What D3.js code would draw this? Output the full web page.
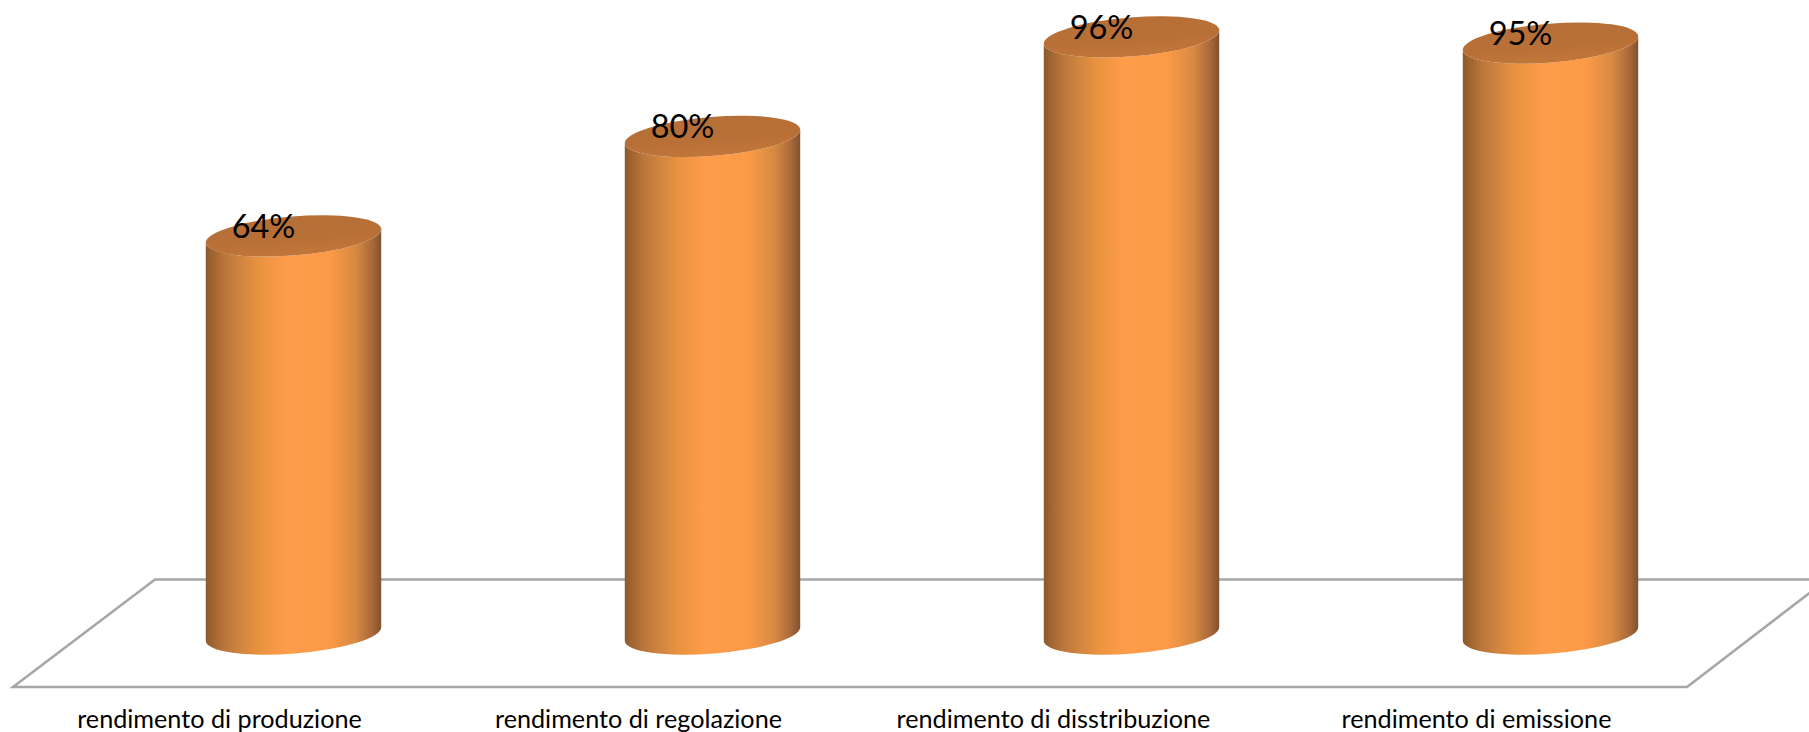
<!DOCTYPE html>
<html>
<head>
<meta charset="utf-8">
<script src="https://cdn.jsdelivr.net/npm/d3@7"></script>
<style>
html,body{margin:0;padding:0;background:#fff;overflow:hidden}
svg{display:block}
text{font-family:Lato,"Open Sans",sans-serif}
</style>
</head>
<body>
<div id="chart"></div>
<script>
const categories = ["rendimento di produzione","rendimento di regolazione","rendimento di disstribuzione","rendimento di emissione"];
const values = [0.64,0.80,0.96,0.95];
const valueLabels = ["64%","80%","96%","95%"];

const width = 1809, height = 732;
const svg = d3.select("#chart").append("svg").attr("width",width).attr("height",height);

const x = d3.scaleBand().domain(categories).range([84,1760]);
const y = d3.scaleLinear().domain([0,1]).range([634,12]);

// Cylinder proportions and the tilt of its elliptical faces
const rx = 88, ry = 19.5, tilt = -4.6;
const rad = tilt*Math.PI/180;
const ex = rx*Math.cos(rad), ey = rx*Math.sin(rad);

const defs = svg.append("defs");
const side = defs.append("linearGradient").attr("id","side");
[[0,"#8a5a30"],[0.04,"#a0642f"],[0.1,"#b8743a"],[0.2,"#d08540"],[0.3,"#e8923f"],[0.45,"#fd9c4a"],[0.7,"#fd9a48"],[0.85,"#d88a42"],[0.95,"#a8683a"],[1,"#80522e"]]
  .forEach(([o,c])=>side.append("stop").attr("offset",o).attr("stop-color",c));
const cap = defs.append("linearGradient").attr("id","cap").attr("x1",0).attr("x2",0).attr("y1",0).attr("y2",1);
[[0,"#b56f37"],[0.6,"#b97037"],[1,"#c27639"]]
  .forEach(([o,c])=>cap.append("stop").attr("offset",o).attr("stop-color",c));

// Floor of the 3D plot
const floor = [[155,579.5],[1827,579.5],[1687,687],[13,687]];
svg.append("path")
  .attr("d",d3.line()(floor)+"Z")
  .attr("fill","#fff").attr("stroke","#a6a6a6").attr("stroke-width",2.5);

const cx = d => x(d)+x.bandwidth()/2;
const bars = svg.append("g").selectAll("g").data(categories).join("g");

bars.append("path")
  .attr("fill","url(#side)")
  .attr("d",(d,i)=>{
    const c = cx(d), t = y(values[i]), b = y(0);
    return `M${c-ex},${t-ey}L${c-ex},${b-ey}A${rx},${ry} ${tilt} 0 0 ${c+ex},${b+ey}L${c+ex},${t+ey}A${rx},${ry} ${tilt} 0 1 ${c-ex},${t-ey}Z`;
  });

bars.append("ellipse")
  .attr("fill","url(#cap)")
  .attr("rx",rx).attr("ry",ry)
  .attr("transform",(d,i)=>`translate(${cx(d)},${y(values[i])}) rotate(${tilt})`);

bars.append("text")
  .attr("x",d=>cx(d)-30)
  .attr("y",(d,i)=>y(values[i])+2)
  .attr("text-anchor","middle")
  .attr("font-size",32.5)
  .attr("fill","#000")
  .text((d,i)=>valueLabels[i]);

// Category labels sit on the front edge of the floor, shifted by the perspective
svg.append("g").selectAll("text").data(categories).join("text")
  .attr("x",(d,i)=>cx(d)-74-(i===2?4:0))
  .attr("y",728)
  .attr("text-anchor","middle")
  .attr("font-size",25.2)
  .attr("fill","#000")
  .text(d=>d);
</script>
</body>
</html>
